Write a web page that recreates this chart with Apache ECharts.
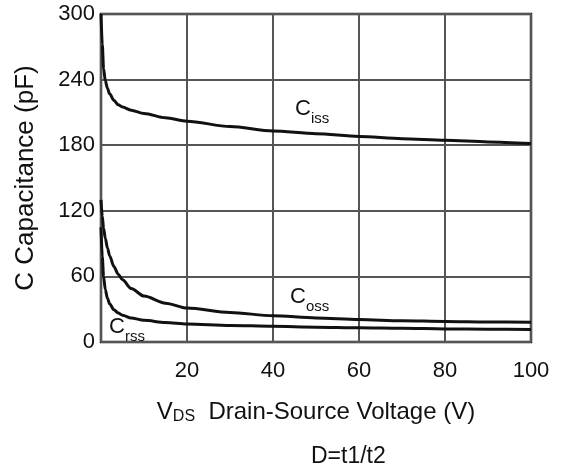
<!DOCTYPE html>
<html>
<head>
<meta charset="utf-8">
<script src="https://cdn.jsdelivr.net/npm/echarts@6/dist/echarts.min.js"></script>
<style>
  html, body { margin: 0; padding: 0; background: #fff; }
  #main { width: 563px; height: 475px; }
</style>
</head>
<body>
<div id="main"></div>
<script>
// drain-source voltage (V)
let volts = [0, 0.3, 0.6, 1, 1.5, 2, 3, 4, 5, 7, 10, 15, 20, 30, 40, 50, 60, 70, 80, 90, 100];
// capacitances (pF)
let ciss = [300, 272, 250, 239, 232, 227, 221, 217, 215, 212, 209, 205, 202, 197, 193, 190.5, 188, 186, 184.5, 183, 181.5];
let coss = [130, 115, 104, 95, 86, 79, 69, 62, 57, 49, 42, 35.5, 31, 27, 24, 22, 20.5, 19.5, 18.8, 18.3, 18];
let crss = [105, 78, 60, 48, 40, 35, 29.5, 26.5, 24.5, 22, 19.8, 17.8, 16.5, 15.2, 14.3, 13.6, 13, 12.5, 12, 11.7, 11.5];

let font = "'Liberation Sans', Arial, sans-serif";

function pairs(ys){
    let out = [];
    volts.forEach((v, i) => {
        out.push([v, ys[i]]);
    });
    return out;
}

function curve(name, ys){
    return {
        name:name,
        type:"line",
        data:pairs(ys),
        smooth:0.3,
        smoothMonotone:"x",
        symbol:"none",
        lineStyle:{ color:"#111", width:3 }
    };
}

// label: C with subscript
function capLabel(sub, x, y){
    return {
        type:"text",
        left:x,
        top:y,
        style:{
            text:"{c|C}{s|" + sub + "}",
            rich:{
                c:{ fontSize:22, fontFamily:font, fill:"#111", verticalAlign:"bottom" },
                s:{ fontSize:15, fontFamily:font, fill:"#111", padding:[0,0,-6,0], verticalAlign:"bottom" }
            }
        }
    };
}

let myChart = echarts.init(document.getElementById("main"));
myChart.setOption({
    animation:false,
    backgroundColor:"#fff",
    grid:{
        left:101,
        right:32,
        top:14,
        bottom:133,
        show:true,
        borderColor:"#222",
        borderWidth:2.5
    },
    xAxis:{
        type:"value",
        min:0,
        max:100,
        interval:20,
        axisLine:{ show:false },
        axisTick:{ show:false },
        splitLine:{ lineStyle:{ color:"#555", width:2 } },
        axisLabel:{
            fontSize:22,
            fontFamily:font,
            color:"#111",
            margin:18,
            formatter:v => v === 0 ? "" : String(v)
        },
        name:"{v|V}{s|DS}{t|  Drain-Source Voltage (V)}",
        nameLocation:"middle",
        nameGap:57,
        nameTextStyle:{
            rich:{
                v:{ fontSize:24, fontFamily:font, color:"#111" },
                s:{ fontSize:16, fontFamily:font, color:"#111", padding:[10,0,0,0] },
                t:{ fontSize:24, fontFamily:font, color:"#111" }
            }
        }
    },
    yAxis:{
        type:"value",
        min:0,
        max:300,
        interval:60,
        axisLine:{ show:false },
        axisTick:{ show:false },
        splitLine:{ lineStyle:{ color:"#555", width:2 } },
        axisLabel:{
            fontSize:22,
            fontFamily:font,
            color:"#111",
            margin:6
        },
        name:"C Capacitance (pF)",
        nameLocation:"middle",
        nameGap:62,
        nameTextStyle:{ fontSize:26, fontFamily:font, color:"#111", padding:[0,0,0,0] }
    },
    graphic:[
        capLabel("iss", 295, 98),
        capLabel("oss", 290, 286),
        capLabel("rss", 109, 316),
        {
            type:"text",
            left:311,
            top:445,
            style:{ text:"D=t1/t2", fontSize:23, fontFamily:font, fill:"#111" }
        }
    ],
    series:[
        curve("Ciss", ciss),
        curve("Coss", coss),
        curve("Crss", crss)
    ]
});
</script>
</body>
</html>
